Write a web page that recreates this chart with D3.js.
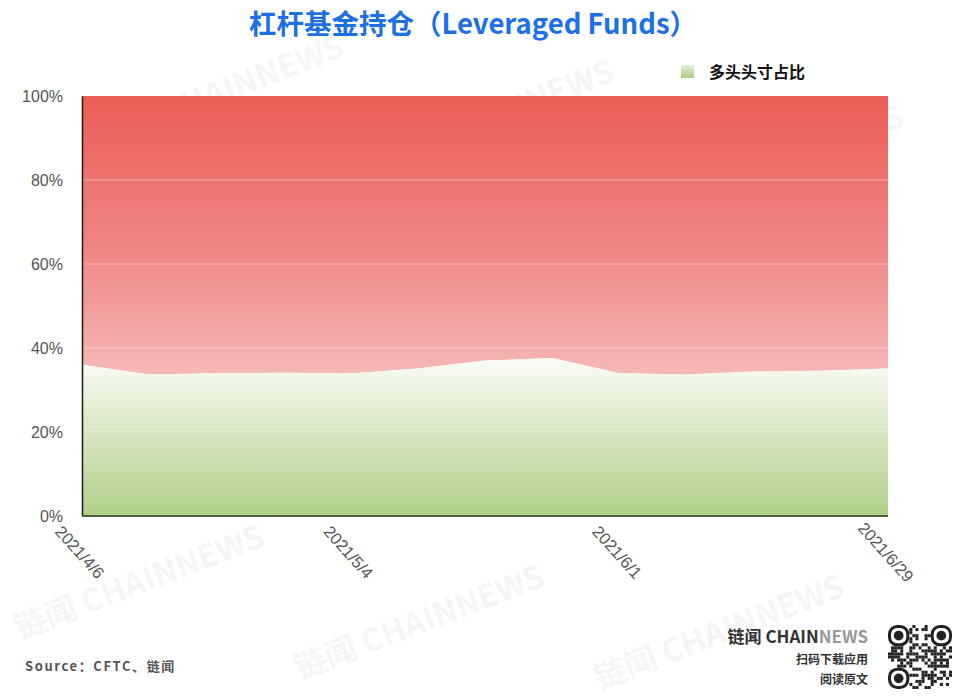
<!DOCTYPE html>
<html><head><meta charset="utf-8">
<script src="https://cdn.jsdelivr.net/npm/d3@7"></script>
<style>body{margin:0;background:#fff}svg{display:block}</style>
</head><body>
<svg id="c" width="960" height="700"></svg>
<script>
const dates = ["2021/4/6","2021/4/13","2021/4/20","2021/4/27","2021/5/4","2021/5/11","2021/5/18","2021/5/25","2021/6/1","2021/6/8","2021/6/15","2021/6/22","2021/6/29"];
const longShare = [36.0,33.7,34.0,34.1,33.9,35.1,37.0,37.6,34.0,33.7,34.4,34.6,35.1];
const yTicks = [0,20,40,60,80,100];
const xLabels = ["2021/4/6","2021/5/4","2021/6/1","2021/6/29"];

const svg = d3.select("#c");
const W=960,H=700, L=82,R=888,T=96,B=516;
const x = d3.scalePoint().domain(dates).range([L,R]);
const y = d3.scaleLinear().domain([0,100]).range([B,T]);
const font = "'Noto Sans CJK SC','Noto Sans',sans-serif";

// watermarks (kept inside the page)
const wm = [[100,150],[370,175],[660,220],[20,640],[300,680],[600,690]];
wm.forEach(([a,b])=>{
  svg.append("text").attr("transform",`translate(${a},${b}) rotate(-21)`)
    .attr("font-family",font).attr("font-weight","bold").attr("font-size",32)
    .attr("fill","#000").attr("opacity",0.035).text("链闻 CHAINNEWS");
});

const defs = svg.append("defs");
const gr = defs.append("linearGradient").attr("id","gRed").attr("gradientUnits","userSpaceOnUse")
  .attr("x1",0).attr("x2",0).attr("y1",y(100)).attr("y2",y(d3.min(longShare)));
gr.append("stop").attr("offset","0").attr("stop-color","#eb5d56");
gr.append("stop").attr("offset","0.55").attr("stop-color","#ef8683");
gr.append("stop").attr("offset","1").attr("stop-color","#f5b8b8");
const gg = defs.append("linearGradient").attr("id","gGreen").attr("gradientUnits","userSpaceOnUse")
  .attr("x1",0).attr("x2",0).attr("y1",y(d3.max(longShare))).attr("y2",y(0));
gg.append("stop").attr("offset","0").attr("stop-color","#fafcf6");
gg.append("stop").attr("offset","1").attr("stop-color","#b0cf88");
const gl = defs.append("linearGradient").attr("id","gLeg").attr("x1",0).attr("x2",0).attr("y1",0).attr("y2",1);
gl.append("stop").attr("offset","0").attr("stop-color","#e4efd6");
gl.append("stop").attr("offset","1").attr("stop-color","#a9cb80");

const data = dates.map((d,i)=>({d,v:longShare[i]}));
svg.append("path").datum(data).attr("fill","url(#gRed)")
  .attr("d",d3.area().x(p=>x(p.d)).y0(p=>y(p.v)).y1(y(100)));
svg.append("path").datum(data).attr("fill","url(#gGreen)")
  .attr("d",d3.area().x(p=>x(p.d)).y0(y(0)).y1(p=>y(p.v)));

// gridlines
svg.append("g").selectAll("line").data(yTicks.filter(t=>t>0&&t<100)).join("line")
  .attr("x1",L).attr("x2",R).attr("y1",d=>y(d)).attr("y2",d=>y(d))
  .attr("stroke","#ffffff").attr("stroke-opacity",0.35).attr("stroke-width",1);

// y axis
const ya = svg.append("g").attr("transform",`translate(${L},0)`)
  .call(d3.axisLeft(y).tickValues(yTicks).tickFormat(d=>d+"%").tickSize(0).tickPadding(19));
ya.select(".domain").attr("stroke","#1a1a1a").attr("stroke-width",1.5);
ya.selectAll("text").attr("font-family","'Liberation Sans',Arial,sans-serif").attr("font-size",16).attr("fill","#555");

// bottom line
svg.append("line").attr("x1",L).attr("x2",R).attr("y1",B).attr("y2",B).attr("stroke","#4a6634").attr("stroke-width",2);

// x labels
const xa = svg.append("g").attr("transform",`translate(0,${B})`)
  .call(d3.axisBottom(x).tickValues(xLabels).tickSize(0).tickFormat(d=>d));
xa.select(".domain").remove();
xa.selectAll("text").attr("font-family","'Liberation Sans',Arial,sans-serif").attr("font-size",16.5).attr("fill","#555")
  .attr("text-anchor","middle").attr("dy",0).attr("y",0)
  .attr("transform","translate(-7,40) rotate(48)");

// title
svg.append("text").attr("x",473).attr("y",34).attr("text-anchor","middle")
  .attr("font-family",font).attr("font-weight","bold").attr("font-size",27.5).attr("fill","#1d6fe5")
  .text("杠杆基金持仓（Leveraged Funds）");

// legend
svg.append("rect").attr("x",681).attr("y",65).attr("width",13).attr("height",13).attr("fill","url(#gLeg)");
svg.append("text").attr("x",709).attr("y",78).attr("font-family",font).attr("font-weight","bold")
  .attr("font-size",16).attr("fill","#111").text("多头头寸占比");

// footer
svg.append("text").attr("x",25).attr("y",671).attr("font-family",font).attr("font-weight","bold")
  .attr("font-size",13).attr("letter-spacing",1.6).attr("fill","#555").text("Source：CFTC、链闻");
const brand = svg.append("text").attr("x",868).attr("y",643).attr("text-anchor","end")
  .attr("font-family",font).attr("font-weight","bold").attr("font-size",17);
brand.append("tspan").attr("fill","#333").text("链闻 CHAIN");
brand.append("tspan").attr("fill","#999").text("NEWS");
svg.append("text").attr("x",868).attr("y",664).attr("text-anchor","end").attr("font-family",font)
  .attr("font-weight","bold").attr("font-size",12).attr("fill","#333").text("扫码下载应用");
svg.append("text").attr("x",868).attr("y",684).attr("text-anchor","end").attr("font-family",font)
  .attr("font-weight","bold").attr("font-size",12).attr("fill","#333").text("阅读原文");

// QR-like badge
const qx=888,qy=625,qs=64,n=21,c=qs/n;
const qr = svg.append("g");
let seed=7;
for(let i=0;i<n;i++)for(let j=0;j<n;j++){
  const inF=(a,b)=>a<7&&b<7;
  if(inF(i,j)||inF(n-1-i,j)||inF(i,n-1-j)) continue;
  seed=(seed*1103515245+12345)%2147483648;
  if((seed>>16)%2) qr.append("rect").attr("x",qx+i*c).attr("y",qy+j*c).attr("width",c).attr("height",c).attr("fill","#222");
}
[[0,0],[n-7,0],[0,n-7]].forEach(([i,j])=>{
  qr.append("rect").attr("x",qx+i*c+c/2).attr("y",qy+j*c+c/2).attr("width",6*c).attr("height",6*c).attr("rx",2.5*c).attr("fill","none").attr("stroke","#222").attr("stroke-width",c);
  qr.append("circle").attr("cx",qx+(i+3.5)*c).attr("cy",qy+(j+3.5)*c).attr("r",1.6*c).attr("fill","#222");
});
</script>
</body></html>
